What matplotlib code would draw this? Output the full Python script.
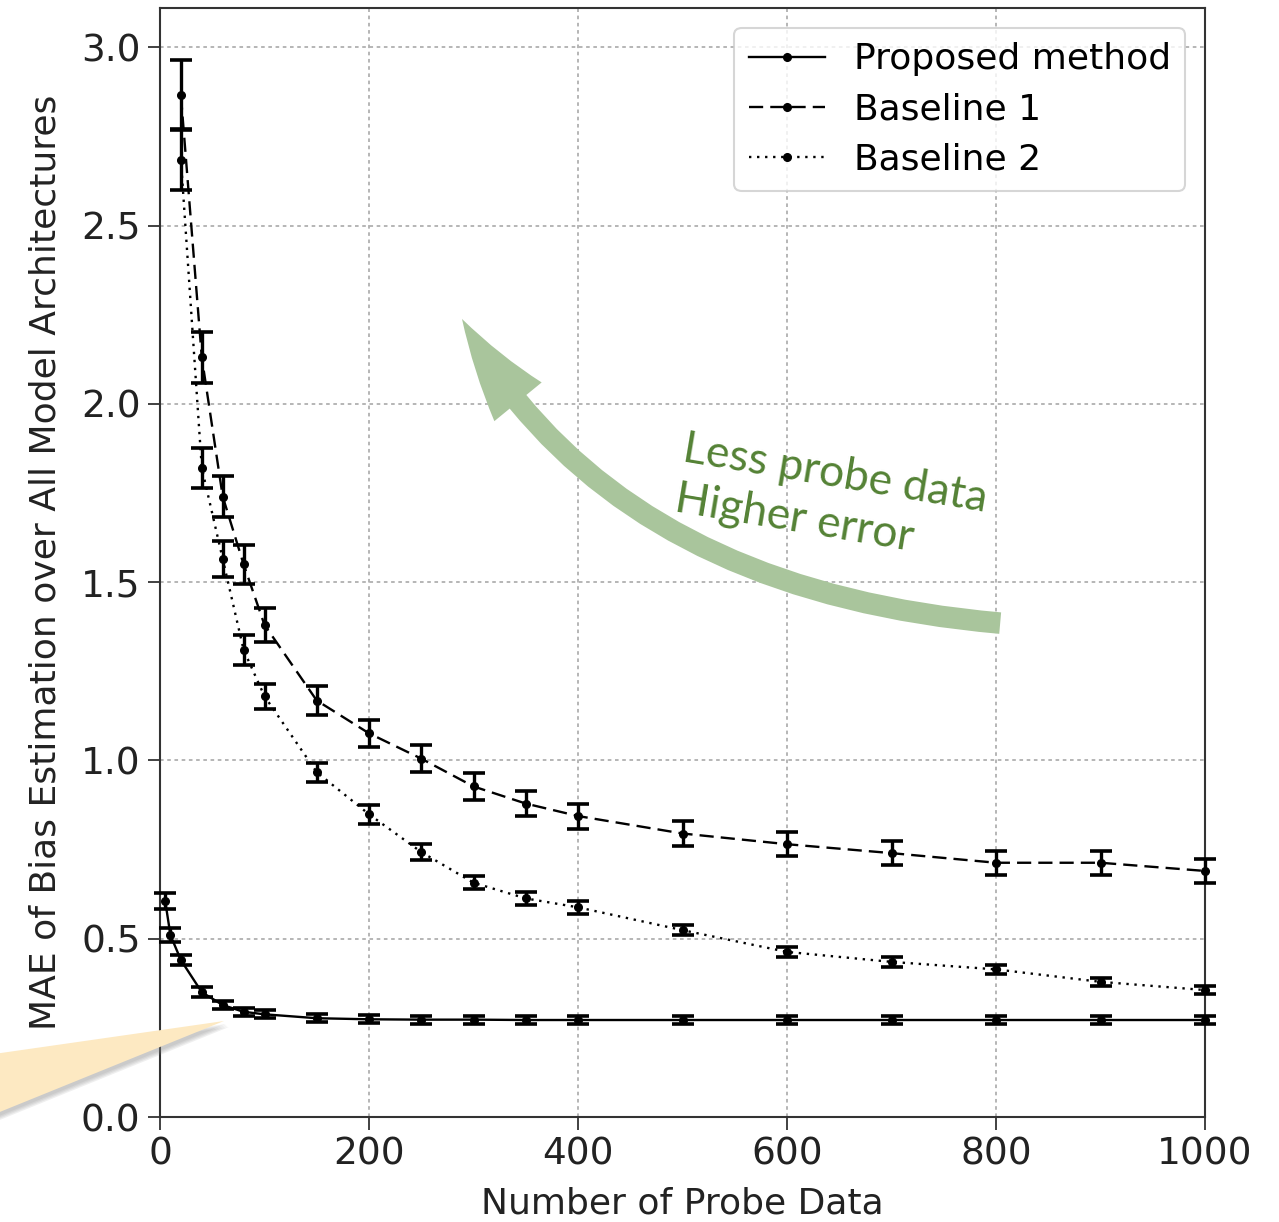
import matplotlib
matplotlib.use("Agg")
import matplotlib.pyplot as plt
from matplotlib.patches import FancyArrowPatch, Polygon

# --- data ---
x_prop = [5, 10, 20, 40, 60, 80, 100, 150, 200, 250, 300, 350, 400, 500, 600, 700, 800, 900, 1000]
y_prop = [0.605, 0.51, 0.44, 0.35, 0.314, 0.295, 0.288, 0.277, 0.274, 0.273, 0.273, 0.272, 0.272,
          0.272, 0.272, 0.272, 0.272, 0.272, 0.272]
e_prop = [0.023, 0.02, 0.015, 0.014, 0.012, 0.011, 0.011, 0.011, 0.011, 0.011, 0.011, 0.011, 0.011,
          0.011, 0.011, 0.011, 0.011, 0.011, 0.011]

x_base = [20, 40, 60, 80, 100, 150, 200, 250, 300, 350, 400, 500, 600, 700, 800, 900, 1000]
y_base1 = [2.865, 2.13, 1.74, 1.55, 1.38, 1.168, 1.076, 1.005, 0.927, 0.879, 0.844, 0.795, 0.765,
           0.740, 0.713, 0.713, 0.69]
e_base1 = [0.098, 0.071, 0.058, 0.055, 0.048, 0.041, 0.037, 0.037, 0.037, 0.035, 0.035, 0.034, 0.033,
           0.033, 0.034, 0.034, 0.033]
y_base2 = [2.685, 1.82, 1.565, 1.31, 1.18, 0.967, 0.849, 0.743, 0.657, 0.613, 0.588, 0.524, 0.463,
           0.435, 0.414, 0.379, 0.356]
e_base2 = [0.085, 0.057, 0.05, 0.042, 0.035, 0.027, 0.027, 0.022, 0.019, 0.018, 0.018, 0.014, 0.014,
           0.014, 0.013, 0.012, 0.012]

labels = ["Proposed method", "Baseline 1", "Baseline 2"]

W, H = 1279, 1222
fig = plt.figure(figsize=(W / 100, H / 100), dpi=100)
ax = fig.add_axes([160 / W, 1 - 1117 / H, (1205 - 160) / W, (1117 - 8) / H])

ekw = dict(color="black", marker=".", markersize=11, lw=1.7, capsize=8, capthick=2.6,
           elinewidth=2.4, clip_on=False, zorder=3)
eb0 = ax.errorbar(x_prop, y_prop, yerr=e_prop, ls="-", **ekw)
eb1 = ax.errorbar(x_base, y_base1, yerr=e_base1, ls=(0, (6, 3)), **ekw)
eb2 = ax.errorbar(x_base, y_base2, yerr=e_base2, ls=(0, (1, 2.4)), **ekw)

ax.set_xlim(0, 1000)
ax.set_ylim(0, 3.11)
ax.set_xticks([0, 200, 400, 600, 800, 1000])
ax.set_yticks([0.0, 0.5, 1.0, 1.5, 2.0, 2.5, 3.0])
ax.set_yticklabels(["0.0", "0.5", "1.0", "1.5", "2.0", "2.5", "3.0"])
ax.tick_params(labelsize=27, length=9, width=1.3, pad=5, color="#333333", labelcolor="#222222")
ax.grid(True, color="#b0b0b0", linestyle=(0, (2, 2)), lw=1.3)
for s in ax.spines.values():
    s.set_color("#333333")
    s.set_linewidth(1.5)

ax.set_xlabel("Number of Probe Data", fontsize=26, color="#222222", labelpad=10)
ax.set_ylabel("MAE of Bias Estimation over All Model Architectures", fontsize=26,
              color="#222222", labelpad=13)

leg = ax.legend([eb0[0], eb1[0], eb2[0]], labels, loc="upper right", fontsize=26,
                handlelength=2.1, borderaxespad=0.55, framealpha=0.8, edgecolor="#cccccc",
                labelspacing=0.45)
leg.get_frame().set_linewidth(1.5)

# green curved arrow
arrow = FancyArrowPatch((804, 1.385), (289, 2.238),
                        connectionstyle="angle3,angleA=175,angleB=-61",
                        arrowstyle="simple,head_length=7.2,head_width=4.4,tail_width=1.55",
                        mutation_scale=10, shrinkA=0, shrinkB=0,
                        color="#a9c59c", lw=0, zorder=4)
ax.add_patch(arrow)

ax.text(504, 1.93, "Less probe data\nHigher error", fontsize=32, color="#548235",
        family="Lato", rotation=-9.5, rotation_mode="anchor", ha="left", va="top",
        linespacing=1.3, zorder=5)

# yellow callout wedge in the lower left corner
def fpx(pts):
    return [(px / W, 1 - py / H) for px, py in pts]

wedge = [(-20, 1056), (224, 1021), (-20, 1120)]
for k in range(4):
    shadow = [(px + 2 + k, py + 3 + k) for px, py in wedge]
    fig.patches.append(Polygon(fpx(shadow), closed=True, transform=fig.transFigure,
                               facecolor="#808080", alpha=0.12, edgecolor="none", zorder=5))
fig.patches.append(Polygon(fpx(wedge), closed=True, transform=fig.transFigure,
                           facecolor="#fde9c2", edgecolor="none", zorder=6))

fig.savefig("out.png", dpi=100)
